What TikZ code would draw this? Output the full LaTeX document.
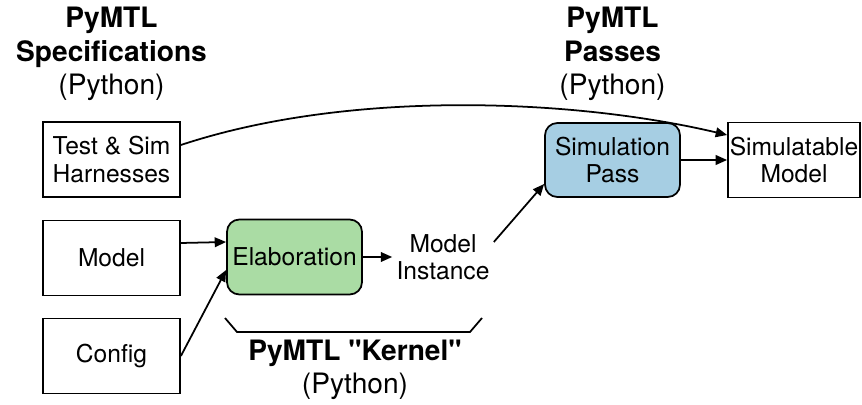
\documentclass[tikz,border=0pt]{standalone}
\usepackage{fontspec}
\setmainfont{TeX Gyre Heros}
\newfontfamily\plainheros{TeX Gyre Heros}
\usetikzlibrary{arrows.meta}
\definecolor{elabgreen}{RGB}{170,220,164}
\definecolor{passblue}{RGB}{166,206,227}
\newcommand{\dq}{{\plainheros"}}

\begin{document}
\begin{tikzpicture}[>={Triangle[length=6.5pt,width=5.5pt]},line width=1pt,
  box/.style={draw,minimum width=2.74cm,minimum height=1.5cm,inner sep=0pt,align=center,font=\fontsize{14}{15.5}\selectfont},
  rbox/.style={box,rounded corners=7pt},
  head/.style={align=center,font=\fontsize{16}{19}\selectfont}]
\useasboundingbox (0,0) rectangle (17.24,8.08);
% spec side
\node[head] (spechd) at (2.23,7.0) {\textbf{PyMTL}\\\textbf{Specifications}\\(Python)};
\node[box] (ts) at (2.23,4.89) {Test \& Sim\\Harnesses};
\node[box] (md) at (2.23,2.92) {Model};
\node[box] (cfg) at (2.23,0.96) {Config};
% kernel
\node[rbox,fill=elabgreen,minimum width=2.7cm] (el) at (5.89,2.94) {Elaboration};
\node[align=center,font=\fontsize{14}{15.5}\selectfont,inner sep=2pt] (mi) at (8.86,2.94) {Model\\Instance};
\draw (4.5,1.72) -- (4.74,1.44) -- (9.4,1.44) -- (9.64,1.72);
\node[head] (kernhd) at (7.1,0.68) {\textbf{PyMTL \dq Kernel\dq}\\(Python)};
% passes
\node[head] (passhd) at (12.25,7.0) {\textbf{PyMTL}\\\textbf{Passes}\\(Python)};
\node[rbox,fill=passblue,minimum width=2.7cm,minimum height=1.48cm] (sp) at (12.25,4.88) {Simulation\\Pass};
\node[box,minimum width=2.64cm] (sm) at (15.88,4.88) {Simulatable\\Model};
% arrows
\draw[->] ([yshift=0.3cm]md.east) -- ([yshift=0.3cm]el.west);
\draw[->] (cfg.east) -- ([yshift=-0.26cm]el.west);
\draw[->] (el.east) -- (mi.west);
\draw[->] ([yshift=0.3cm]mi.east) -- ([yshift=-0.48cm]sp.west);
\draw[->] (sp.east) -- (sm.west);
\draw[->] ([yshift=0.29cm]ts.east) .. controls (7,6.3) and (11.5,6.1) .. ([yshift=0.5cm]sm.west);
\end{tikzpicture}
\end{document}
